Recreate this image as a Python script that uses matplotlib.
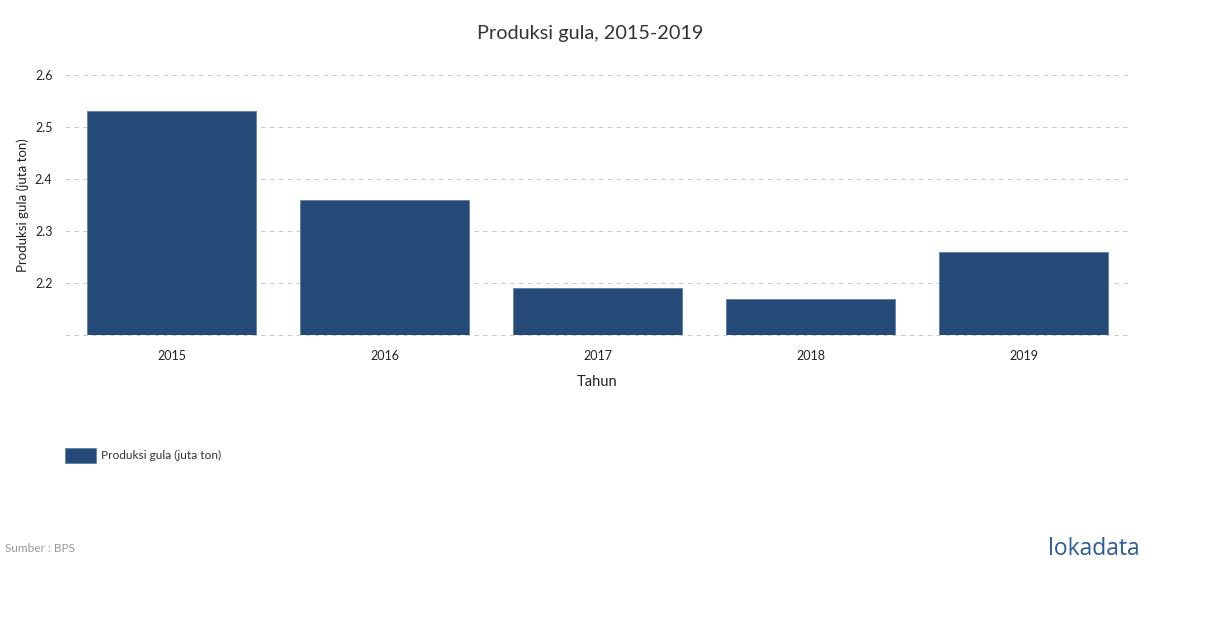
import matplotlib
matplotlib.use("Agg")
import matplotlib.pyplot as plt
from matplotlib.patches import Rectangle

years = ["2015", "2016", "2017", "2018", "2019"]
values = [2.53, 2.36, 2.19, 2.17, 2.26]
yticks = [2.2, 2.3, 2.4, 2.5, 2.6]
grid_levels = [2.1, 2.2, 2.3, 2.4, 2.5, 2.6]

plt.rcParams['font.family'] = ['Lato', 'DejaVu Sans']
W, H = 1210, 628
fig = plt.figure(figsize=(W/100, H/100), dpi=100)
ax = fig.add_axes([65/W, 1-335/H, 1065/W, 260/H])

bar_color = "#264a78"
x = list(range(len(years)))
ax.bar(x, values, width=0.795, color=bar_color, edgecolor="#5f7fa3", linewidth=0.6, zorder=3)
ax.set_xlim(-0.5, len(years)-0.5)
ax.set_ylim(2.1, 2.6)

for g in grid_levels:
    ax.axhline(g, color="#cccccc", linestyle=(0, (4, 4)), linewidth=0.8, zorder=1, clip_on=False)

ax.set_yticks(yticks)
ax.set_yticklabels([f"{v:.1f}" for v in yticks], fontsize=9, color="#222222")
ax.set_xticks(x)
ax.set_xticklabels(years, fontsize=9, color="#222222")
ax.tick_params(axis='y', length=0, pad=9)
ax.tick_params(axis='x', length=0, pad=11)
for s in ax.spines.values():
    s.set_visible(False)

ax.set_xlabel("Tahun", fontsize=10.5, color="#222222")
ax.xaxis.set_label_coords(0.5, -(382-335)/260, transform=ax.transAxes)
ax.xaxis.label.set_va("center")
ax.set_ylabel("Produksi gula (juta ton)", fontsize=9.5, color="#222222")
ax.yaxis.set_label_coords((23-65)/1065, 0.5)
ax.yaxis.label.set_va("center")

fig.text(590/W, 1-33/H, "Produksi gula, 2015-2019", ha="center", va="center", fontsize=14.3, color="#333333")

# legend
fig.patches.append(Rectangle((65/W, 1-463/H), 31/W, 15/H, transform=fig.transFigure,
                             facecolor=bar_color, edgecolor="#5f7fa3", linewidth=0.6))
fig.text(101/W, 1-455/H, "Produksi gula (juta ton)", ha="left", va="center", fontsize=8.6, color="#333333")

fig.text(5/W, 1-548/H, "Sumber : BPS", ha="left", va="center", fontsize=8.5, color="#999999")
fig.text(1140/W, 1-549/H, "lokadata", ha="right", va="center", fontsize=16.5, color="#2c5a9b",
         family=["Open Sans", "DejaVu Sans"])

fig.savefig("out.png", dpi=100)
